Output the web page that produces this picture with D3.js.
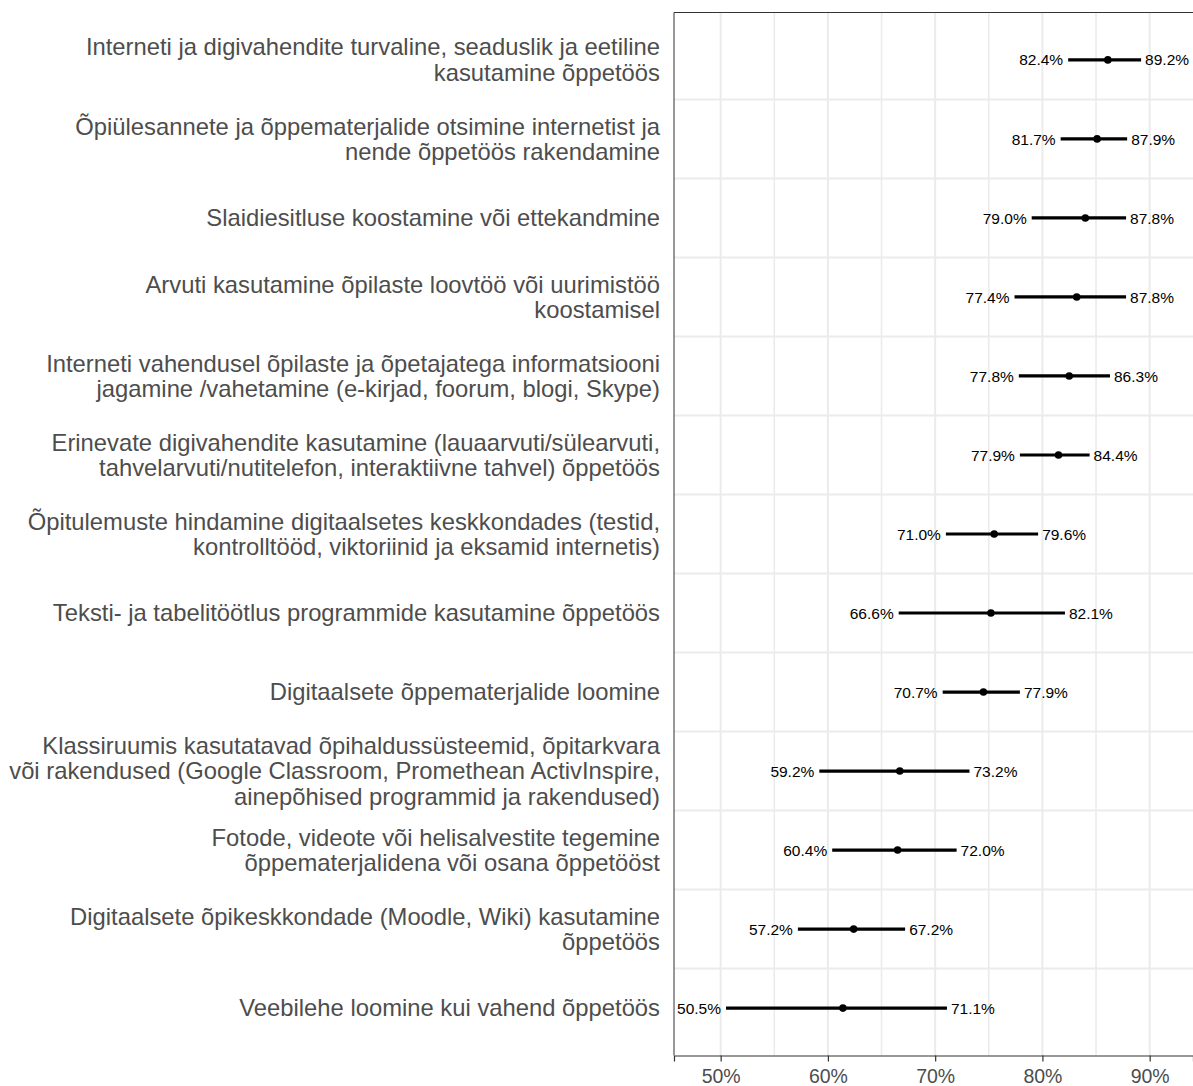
<!DOCTYPE html>
<html>
<head>
<meta charset="utf-8">
<script src="https://cdn.jsdelivr.net/npm/d3@7"></script>
<style>
  html, body { margin: 0; padding: 0; background: #fff; }
  svg { display: block; }
</style>
</head>
<body>
<svg id="chart" width="1193" height="1086"></svg>
<script>
const categories = [
  "Interneti ja digivahendite turvaline, seaduslik ja eetiline\nkasutamine õppetöös",
  "Õpiülesannete ja õppematerjalide otsimine internetist ja\nnende õppetöös rakendamine",
  "Slaidiesitluse koostamine või ettekandmine",
  "Arvuti kasutamine õpilaste loovtöö või uurimistöö\nkoostamisel",
  "Interneti vahendusel õpilaste ja õpetajatega informatsiooni\njagamine /vahetamine (e-kirjad, foorum, blogi, Skype)",
  "Erinevate digivahendite kasutamine (lauaarvuti/sülearvuti,\ntahvelarvuti/nutitelefon, interaktiivne tahvel) õppetöös",
  "Õpitulemuste hindamine digitaalsetes keskkondades (testid,\nkontrolltööd, viktoriinid ja eksamid internetis)",
  "Teksti- ja tabelitöötlus programmide kasutamine õppetöös",
  "Digitaalsete õppematerjalide loomine",
  "Klassiruumis kasutatavad õpihaldussüsteemid, õpitarkvara\nvõi rakendused (Google Classroom, Promethean ActivInspire,\nainepõhised programmid ja rakendused)",
  "Fotode, videote või helisalvestite tegemine\nõppematerjalidena või osana õppetööst",
  "Digitaalsete õpikeskkondade (Moodle, Wiki) kasutamine\nõppetöös",
  "Veebilehe loomine kui vahend õppetöös"
];
const lower    = [82.4, 81.7, 79.0, 77.4, 77.8, 77.9, 71.0, 66.6, 70.7, 59.2, 60.4, 57.2, 50.5];
const upper    = [89.2, 87.9, 87.8, 87.8, 86.3, 84.4, 79.6, 82.1, 77.9, 73.2, 72.0, 67.2, 71.1];
const estimate = [86.1, 85.1, 84.0, 83.2, 82.5, 81.5, 75.5, 75.2, 74.5, 66.7, 66.5, 62.4, 61.4];
const majorTicks = [50, 60, 70, 80, 90];
const minorTicks = [55, 65, 75, 85];

const panel = { left: 674, right: 1193, top: 12.5, bottom: 1055.5 };
const svg = d3.select("#chart");
const font = "'Liberation Sans', Arial, sans-serif";

const x = d3.scaleLinear().domain([45.65, 94.04]).range([panel.left, panel.right]);
const y = d3.scalePoint().domain(d3.range(categories.length)).range([panel.top, panel.bottom]).padding(0.6);

const grid = svg.append("g");
grid.selectAll("line.vmin").data(minorTicks).join("line")
  .attr("x1", d => x(d)).attr("x2", d => x(d))
  .attr("y1", panel.top).attr("y2", panel.bottom)
  .attr("stroke", "#ebebeb").attr("stroke-width", 1.6);
grid.selectAll("line.vmaj").data(majorTicks).join("line")
  .attr("x1", d => x(d)).attr("x2", d => x(d))
  .attr("y1", panel.top).attr("y2", panel.bottom)
  .attr("stroke", "#ebebeb").attr("stroke-width", 2);
const seps = d3.range(categories.length - 1);
grid.selectAll("line.h").data(seps).join("line")
  .attr("x1", panel.left).attr("x2", panel.right)
  .attr("y1", d => (y(d) + y(d + 1)) / 2).attr("y2", d => (y(d) + y(d + 1)) / 2)
  .attr("stroke", "#ebebeb").attr("stroke-width", 2);

svg.append("line").attr("x1", panel.left).attr("x2", panel.right)
  .attr("y1", panel.top).attr("y2", panel.top).attr("stroke", "#333").attr("stroke-width", 1);
svg.append("line").attr("x1", panel.left).attr("x2", panel.left)
  .attr("y1", panel.top).attr("y2", panel.bottom).attr("stroke", "#333").attr("stroke-width", 1);

const axis = d3.axisBottom(x).tickValues(majorTicks).tickFormat(d => d + "%").tickSize(6).tickPadding(8);
const gx = svg.append("g").attr("transform", `translate(0,${panel.bottom})`).call(axis);
gx.select(".domain").attr("stroke", "#333").attr("stroke-width", 1.2);
gx.selectAll(".tick line").attr("stroke", "#333").attr("stroke-width", 1.2);
gx.selectAll(".tick text").attr("fill", "#4d4d4d").style("font-family", font).style("font-size", "19.5px");

const labelG = svg.append("g");
categories.forEach((c, i) => {
  const lines = c.split("\n");
  const lh = 25.5;
  const t = labelG.append("text")
    .attr("x", 660).attr("y", y(i))
    .attr("text-anchor", "end").attr("fill", "#4d4d4d")
    .style("font-family", font).style("font-size", "23.8px");
  lines.forEach((ln, k) => {
    t.append("tspan").attr("x", 660)
      .attr("y", y(i) + (k - (lines.length - 1) / 2) * lh)
      .attr("dy", "0.35em").text(ln);
  });
});

const data = categories.map((c, i) => ({ i, lo: lower[i], hi: upper[i], est: estimate[i] }));
const marks = svg.append("g");
marks.selectAll("line.ci").data(data).join("line")
  .attr("x1", d => x(d.lo)).attr("x2", d => x(d.hi))
  .attr("y1", d => y(d.i)).attr("y2", d => y(d.i))
  .attr("stroke", "#000").attr("stroke-width", 3.2);
marks.selectAll("circle").data(data).join("circle")
  .attr("cx", d => x(d.est)).attr("cy", d => y(d.i)).attr("r", 3.8).attr("fill", "#000");
marks.selectAll("text.lo").data(data).join("text")
  .attr("x", d => x(d.lo) - 5).attr("y", d => y(d.i)).attr("dy", "0.36em")
  .attr("text-anchor", "end").attr("fill", "#000")
  .style("font-family", font).style("font-size", "15.5px")
  .text(d => d.lo.toFixed(1) + "%");
marks.selectAll("text.hi").data(data).join("text")
  .attr("x", d => x(d.hi) + 4).attr("y", d => y(d.i)).attr("dy", "0.36em")
  .attr("text-anchor", "start").attr("fill", "#000")
  .style("font-family", font).style("font-size", "15.5px")
  .text(d => d.hi.toFixed(1) + "%");
</script>
</body>
</html>
